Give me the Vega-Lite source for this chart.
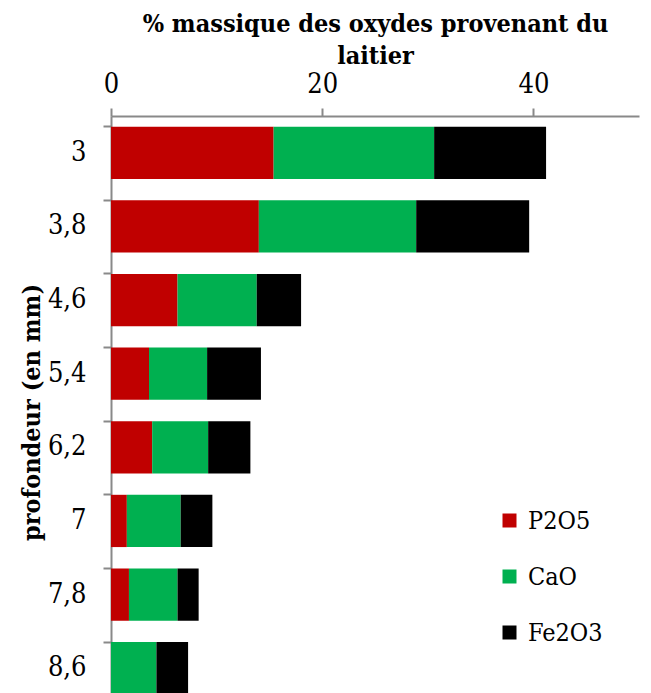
{
  "$schema": "https://vega.github.io/schema/vega-lite/v6.json",
  "width": 528,
  "height": 589,
  "autosize": "none",
  "padding": {"left": 111, "top": 116, "right": 12, "bottom": 0},
  "background": "white",
  "data": {
    "values": [
      {"profondeur": "3", "oxyde": "P2O5", "ordre": 1, "valeur": 15.4},
      {"profondeur": "3", "oxyde": "CaO", "ordre": 2, "valeur": 15.2},
      {"profondeur": "3", "oxyde": "Fe2O3", "ordre": 3, "valeur": 10.6},
      {"profondeur": "3,8", "oxyde": "P2O5", "ordre": 1, "valeur": 14.0},
      {"profondeur": "3,8", "oxyde": "CaO", "ordre": 2, "valeur": 14.9},
      {"profondeur": "3,8", "oxyde": "Fe2O3", "ordre": 3, "valeur": 10.7},
      {"profondeur": "4,6", "oxyde": "P2O5", "ordre": 1, "valeur": 6.3},
      {"profondeur": "4,6", "oxyde": "CaO", "ordre": 2, "valeur": 7.5},
      {"profondeur": "4,6", "oxyde": "Fe2O3", "ordre": 3, "valeur": 4.2},
      {"profondeur": "5,4", "oxyde": "P2O5", "ordre": 1, "valeur": 3.6},
      {"profondeur": "5,4", "oxyde": "CaO", "ordre": 2, "valeur": 5.5},
      {"profondeur": "5,4", "oxyde": "Fe2O3", "ordre": 3, "valeur": 5.1},
      {"profondeur": "6,2", "oxyde": "P2O5", "ordre": 1, "valeur": 3.9},
      {"profondeur": "6,2", "oxyde": "CaO", "ordre": 2, "valeur": 5.3},
      {"profondeur": "6,2", "oxyde": "Fe2O3", "ordre": 3, "valeur": 4.0},
      {"profondeur": "7", "oxyde": "P2O5", "ordre": 1, "valeur": 1.5},
      {"profondeur": "7", "oxyde": "CaO", "ordre": 2, "valeur": 5.1},
      {"profondeur": "7", "oxyde": "Fe2O3", "ordre": 3, "valeur": 3.0},
      {"profondeur": "7,8", "oxyde": "P2O5", "ordre": 1, "valeur": 1.7},
      {"profondeur": "7,8", "oxyde": "CaO", "ordre": 2, "valeur": 4.6},
      {"profondeur": "7,8", "oxyde": "Fe2O3", "ordre": 3, "valeur": 2.0},
      {"profondeur": "8,6", "oxyde": "P2O5", "ordre": 1, "valeur": 0.0},
      {"profondeur": "8,6", "oxyde": "CaO", "ordre": 2, "valeur": 4.3},
      {"profondeur": "8,6", "oxyde": "Fe2O3", "ordre": 3, "valeur": 3.0}
    ]
  },
  "mark": {"type": "bar"},
  "encoding": {
    "y": {
      "field": "profondeur",
      "type": "ordinal",
      "sort": ["3", "3,8", "4,6", "5,4", "6,2", "7", "7,8", "8,6"],
      "scale": {"paddingInner": 0.29, "paddingOuter": 0.145},
      "axis": {
        "title": "profondeur (en mm)",
        "titleFont": "DejaVu Serif Condensed",
        "titleFontSize": 25,
        "titleFontWeight": "bold",
        "titleColor": "black",
        "titleX": -80,
        "titleY": 296,
        "titleAngle": -90,
        "titleBaseline": "middle",
        "titleAlign": "center",
        "labelFont": "DejaVu Serif Condensed",
        "labelFontSize": 27,
        "labelColor": "black",
        "labelPadding": 17,
        "tickSize": 8,
        "tickColor": "#898989",
        "tickWidth": 2,
        "domainColor": "#898989",
        "domainWidth": 2,
        "bandPosition": 0,
        "grid": false
      }
    },
    "x": {
      "field": "valeur",
      "type": "quantitative",
      "stack": "zero",
      "scale": {"domain": [0, 50], "nice": false},
      "axis": {
        "orient": "top",
        "values": [0, 20, 40],
        "title": ["% massique des oxydes provenant du", "laitier"],
        "titleFont": "DejaVu Serif Condensed",
        "titleFontSize": 25,
        "titleFontWeight": "bold",
        "titleColor": "black",
        "titleLineHeight": 32,
        "titleBaseline": "alphabetic",
        "titleY": -85,
        "labelFont": "DejaVu Serif Condensed",
        "labelFontSize": 27,
        "labelColor": "black",
        "labelBaseline": "alphabetic",
        "labelPadding": 16,
        "labelFlush": false,
        "tickSize": 8,
        "tickColor": "#898989",
        "tickWidth": 2,
        "domainColor": "#898989",
        "domainWidth": 2,
        "grid": false
      }
    },
    "color": {
      "field": "oxyde",
      "type": "nominal",
      "sort": ["P2O5", "CaO", "Fe2O3"],
      "scale": {"domain": ["P2O5", "CaO", "Fe2O3"], "range": ["#C00000", "#00B050", "#000000"]},
      "legend": {
        "title": null,
        "orient": "none",
        "legendX": 386,
        "legendY": 392,
        "padding": 0,
        "symbolType": "square",
        "symbolSize": 196,
        "symbolStrokeWidth": 0,
        "labelFont": "DejaVu Serif Condensed",
        "labelFontSize": 25,
        "labelColor": "black",
        "labelOffset": 6,
        "rowPadding": 30
      }
    },
    "order": {"field": "ordre", "type": "quantitative"}
  },
  "config": {"view": {"stroke": null}}
}
